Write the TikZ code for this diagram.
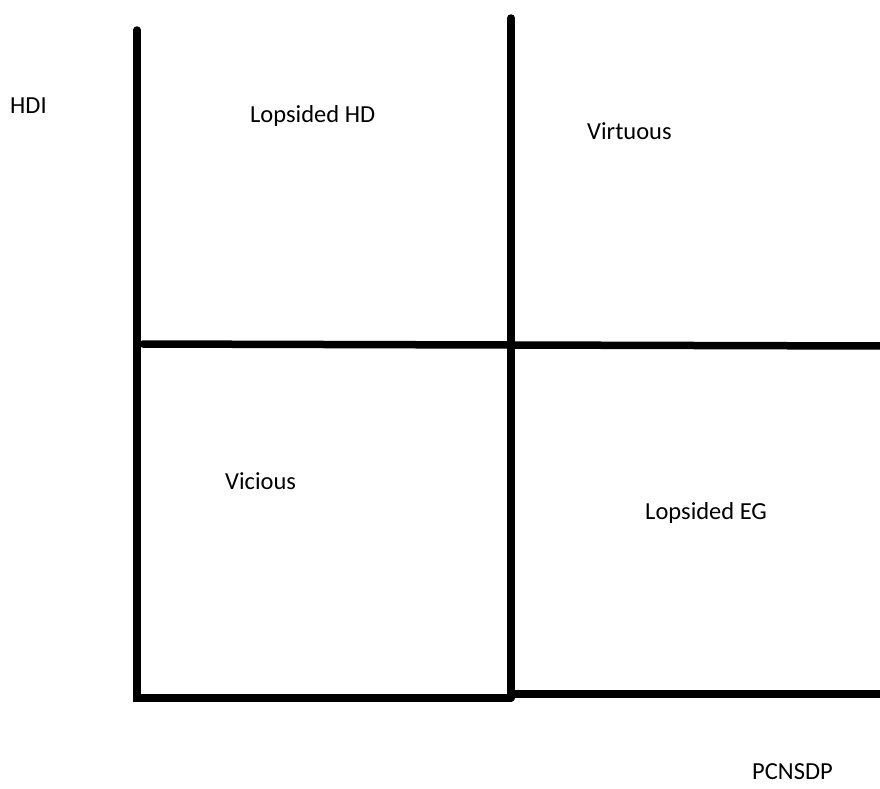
\documentclass[tikz,border=0pt]{standalone}
\usepackage{fontspec}
\setmainfont{Carlito}

\begin{document}
\begin{tikzpicture}[x=1pt,y=-1pt,
  axis/.style={line width=7.5pt,line cap=round},
  quadlabel/.style={anchor=west,inner sep=0pt,font=\fontsize{24.5}{28}\selectfont}]
  \useasboundingbox (0,0) rectangle (880,788);

  \coordinate (lefttop) at (137,30);
  \coordinate (leftbot) at (137,698);
  \coordinate (midtop) at (511,18);
  \coordinate (midbot) at (511,698);
  \coordinate (hleft) at (143,344);
  \coordinate (hmid) at (511,345);
  \coordinate (hright) at (884,346);
  \coordinate (bmid) at (511,694);
  \coordinate (bright) at (884,694);

  \draw[axis] (lefttop) -- (leftbot) -- (midbot);
  \draw[axis] (midtop) -- (midbot);
  \draw[axis] (hleft) -- (hmid) -- (hright);
  \draw[axis,line cap=butt] (bmid) -- (bright);

  \node[quadlabel] (hdi) at (10,106) {HDI};
  \node[quadlabel] (lophd) at (250,116) {Lopsided HD};
  \node[quadlabel] (virt) at (587,131) {Virtuous};
  \node[quadlabel] (vic) at (225,481) {Vicious};
  \node[quadlabel] (lopeg) at (645,513) {Lopsided EG};
  \node[quadlabel] (pcn) at (752,772) {PCNSDP};
\end{tikzpicture}
\end{document}
